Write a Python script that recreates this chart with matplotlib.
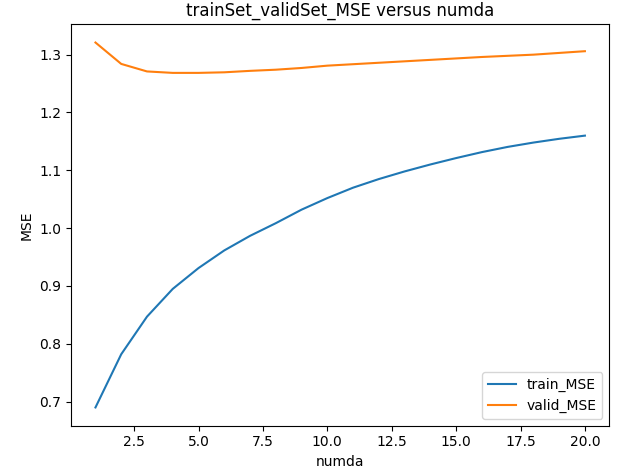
# train / valid MSE against numda

import matplotlib
matplotlib.use("Agg")
import matplotlib.pyplot as plt

numda = [1, 2, 3, 4, 5, 6, 7, 8, 9, 10, 11, 12, 13, 14, 15, 16, 17, 18, 19, 20]

train_mse = [0.690, 0.782, 0.847, 0.895, 0.931, 0.9615, 0.9867, 1.0086, 1.032, 1.052,
             1.0700, 1.0849, 1.0981, 1.1101, 1.1212, 1.1315, 1.1405, 1.1480, 1.1545, 1.1600]

valid_mse = [1.321, 1.284, 1.271, 1.2685, 1.2685, 1.2695, 1.272, 1.274, 1.277, 1.281,
             1.2835, 1.286, 1.2885, 1.291, 1.2935, 1.296, 1.298, 1.300, 1.303, 1.306]

fig = plt.figure(figsize=(6.25, 4.76), dpi=100)
plt.subplots_adjust(left=0.1136, right=0.975, top=0.949, bottom=0.1057)

plt.plot(numda, train_mse, label="train_MSE")
plt.plot(numda, valid_mse, label="valid_MSE")
plt.title("trainSet_validSet_MSE versus numda")
plt.xlabel("numda")
plt.ylabel("MSE")
plt.legend(loc="lower right")

plt.savefig("out.png")
